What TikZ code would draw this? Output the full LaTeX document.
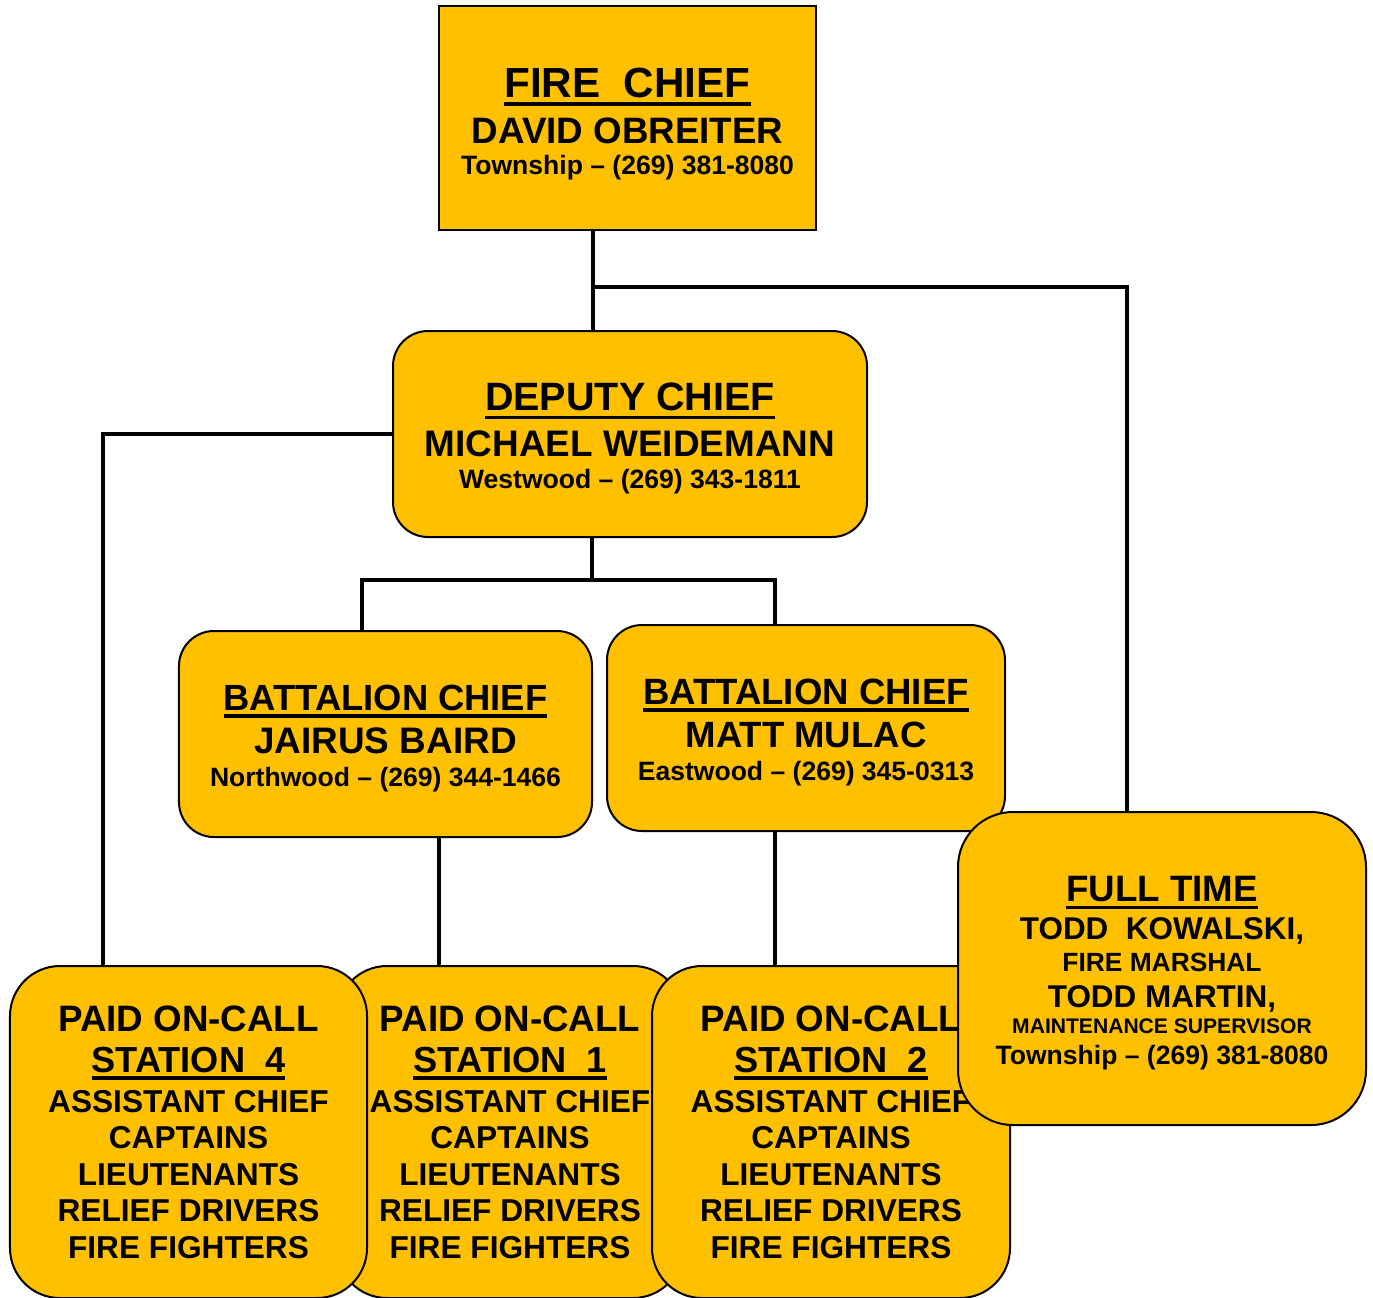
\documentclass[tikz,border=0pt]{standalone}
\usepackage{fontspec}
\setmainfont{Liberation Sans}
\usepackage{tikz}
\definecolor{boxgold}{HTML}{FFC000}
\setlength{\parindent}{0pt}
\setlength{\parskip}{0pt}
\newcommand{\ulbar}[1]{\leavevmode\setbox0\hbox{#1}\rlap{\rule[-0.21em]{\wd0}{0.09em}}\box0}
\newcommand{\orgline}[3]{{\fontsize{#1}{#2}\selectfont\spaceskip=\fontdimen2\font\relax #3\par}}
\tikzset{
  chiefbox/.style={draw, line width=0.4mm, fill=boxgold, inner sep=0pt, align=center, font=\bfseries,
    execute at begin node={\par\vskip-1.7mm}},
  roundbox/.style={chiefbox, rounded corners=7mm, minimum height=41.2mm},
  stationbox/.style={draw, line width=0.4mm, fill=boxgold, inner sep=0pt, align=center, font=\bfseries,
    rounded corners=10mm, minimum height=66.4mm},
  link/.style={line width=0.8mm}
}
\begin{document}
\begin{tikzpicture}[x=0.2mm, y=-0.2mm]
    \useasboundingbox (0,0) rectangle (1373,1297);
    \clip (0,0) rectangle (1373,1297);

    % Top of the chart
    \node[chiefbox, text width=75.4mm, minimum height=44.8mm] (fire) at (627.5,118) {%
        \orgline{24}{28}{\ulbar{FIRE\hspace{0.556em}CHIEF}}
        \orgline{20.9}{26.2}{DAVID OBREITER}
        \orgline{15.1}{17.6}{Township – (269) 381-8080}};
    \node[roundbox, text width=94.8mm] (deputy) at (630,434) {%
        \orgline{22.5}{26}{\ulbar{DEPUTY CHIEF}}
        \orgline{21}{26.2}{MICHAEL WEIDEMANN}
        \orgline{15.1}{18.2}{Westwood – (269) 343-1811}};

    % Battalion chiefs
    \node[roundbox, text width=82.6mm] (bcone) at (385.5,734) {%
        \orgline{20.7}{24}{\ulbar{BATTALION CHIEF}}
        \orgline{21}{24.5}{JAIRUS BAIRD}
        \orgline{15.1}{18.8}{Northwood – (269) 344-1466}};
    \node[roundbox, text width=79.6mm] (bctwo) at (806,728) {%
        \orgline{20.8}{24}{\ulbar{BATTALION CHIEF}}
        \orgline{20.8}{24.5}{MATT MULAC}
        \orgline{15.1}{18.8}{Eastwood – (269) 345-0313}};

    % Stations (station 1 sits behind its neighbours)
    \node[stationbox, text width=69.2mm] (stone) at (510,1132) {%
        \orgline{20.9}{24}{PAID ON-CALL}
        \orgline{20.6}{23.3}{\ulbar{STATION\hspace{0.556em}1}}
        \orgline{18}{22.8}{ASSISTANT CHIEF}
        \orgline{18}{20.8}{CAPTAINS}
        \orgline{18}{20.8}{LIEUTENANTS}
        \orgline{18}{20.8}{RELIEF DRIVERS}
        \orgline{18}{20.8}{FIRE FIGHTERS}};
    \node[stationbox, text width=71.4mm] (stfour) at (188.5,1132) {%
        \orgline{20.9}{24}{PAID ON-CALL}
        \orgline{20.6}{23.3}{\ulbar{STATION\hspace{0.556em}4}}
        \orgline{18}{22.8}{ASSISTANT CHIEF}
        \orgline{18}{20.8}{CAPTAINS}
        \orgline{18}{20.8}{LIEUTENANTS}
        \orgline{18}{20.8}{RELIEF DRIVERS}
        \orgline{18}{20.8}{FIRE FIGHTERS}};
    \node[stationbox, text width=71.6mm] (sttwo) at (831,1132) {%
        \orgline{20.9}{24}{PAID ON-CALL}
        \orgline{20.6}{23.3}{\ulbar{STATION\hspace{0.556em}2}}
        \orgline{18}{22.8}{ASSISTANT CHIEF}
        \orgline{18}{20.8}{CAPTAINS}
        \orgline{18}{20.8}{LIEUTENANTS}
        \orgline{18}{20.8}{RELIEF DRIVERS}
        \orgline{18}{20.8}{FIRE FIGHTERS}};

    % Full time staff
    \node[chiefbox, rounded corners=11mm, text width=81.6mm, minimum height=62.6mm] (fulltime) at (1162,968.5) {%
        \orgline{20.9}{24}{\ulbar{FULL TIME}}
        \orgline{17.9}{21.6}{TODD\hspace{0.556em}KOWALSKI,}
        \orgline{15}{18.2}{FIRE MARSHAL}
        \orgline{17.9}{20.5}{TODD MARTIN,}
        \orgline{12}{14.8}{MAINTENANCE SUPERVISOR}
        \orgline{15.1}{17.6}{Township – (269) 381-8080}};

    % Connectors
    \coordinate (trunk) at (593,287);
    \coordinate (ftjoin) at (1127,287);
    \coordinate (leftjog) at (103,434);
    \coordinate (bcsplit) at (592,580);
    \coordinate (bcleft) at (362,580);
    \coordinate (bcright) at (775,580);
    \coordinate (oneline) at (439,0);
    \draw[link] (trunk |- fire.south) -- (trunk |- deputy.north);
    \draw[link] (trunk) -- (ftjoin) -- (ftjoin |- fulltime.north);
    \draw[link] (deputy.west) -- (leftjog) -- (leftjog |- stfour.north);
    \draw[link] (bcsplit |- deputy.south) -- (bcsplit);
    \draw[link] (bcleft |- bcone.north) -- (bcleft) -- (bcright) -- (bcright |- bctwo.north);
    \draw[link] (oneline |- bcone.south) -- (oneline |- stone.north);
    \draw[link] (bcright |- bctwo.south) -- (bcright |- sttwo.north);
\end{tikzpicture}
\end{document}
